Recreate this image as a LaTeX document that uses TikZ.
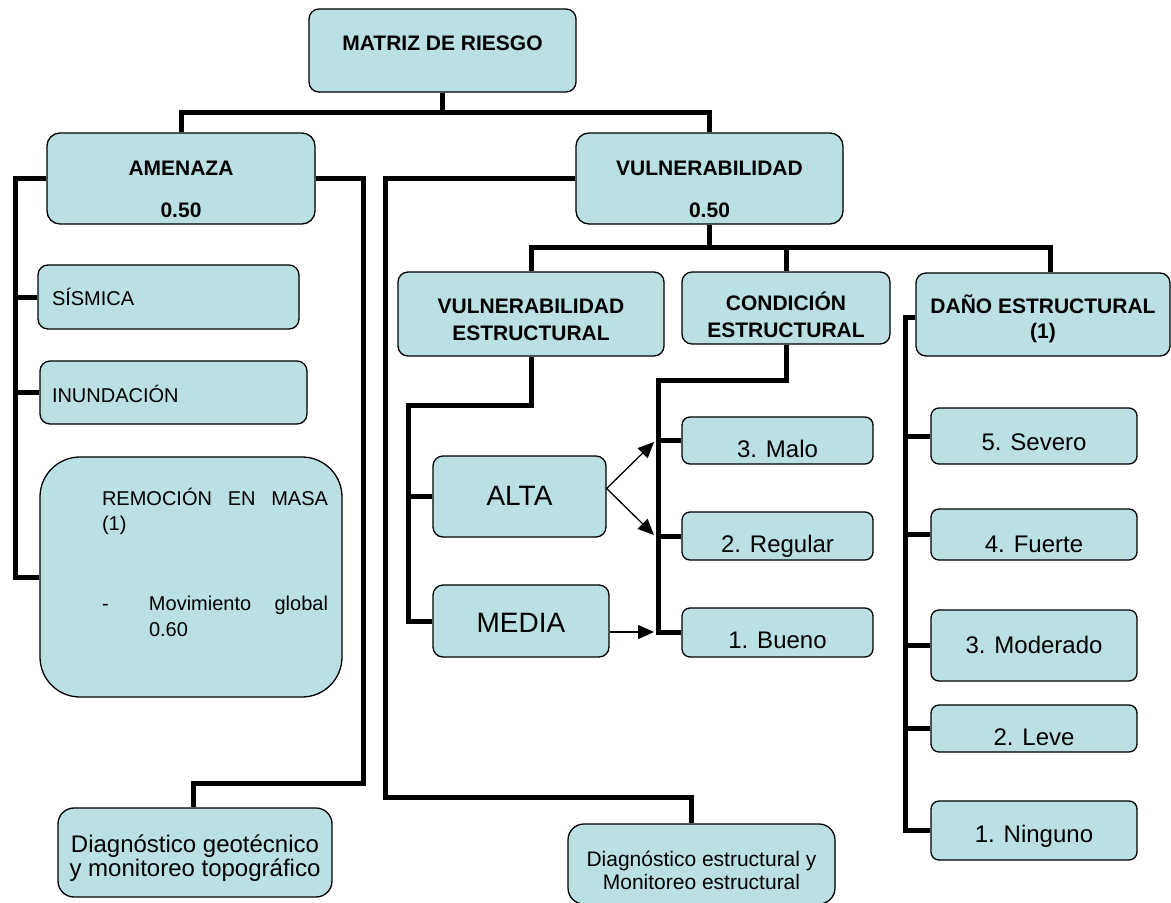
\documentclass[tikz,border=0pt]{standalone}
\usepackage{fontspec}
\setmainfont{Liberation Sans}
\usepackage{tikz}
\usetikzlibrary{arrows.meta}
\definecolor{cajafill}{RGB}{187,224,227}
% texto centrado: desplazamiento, tamano, interlinea, texto
\newcommand{\rotulo}[4]{\raisebox{#1pt}[0pt][0pt]{\fontsize{#2}{#3}\selectfont\begin{tabular}[t]{@{}c@{}}#4\end{tabular}}}
% texto a la izquierda: desplazamiento, tamano, ancho, texto
\newcommand{\rotuloizq}[4]{\raisebox{#1pt}[0pt][0pt]{\fontsize{#2}{#2}\selectfont\makebox[#3pt][l]{#4}}}
\tikzset{
    caja/.style={draw, line width=1.3pt, fill=cajafill, rounded corners=10pt, inner sep=0pt},
    link/.style={line width=5pt, line join=miter},
    flecha/.style={line width=1.3pt, -{Triangle[length=16pt,width=14pt]}}
}

\begin{document}
\begin{tikzpicture}[x=1pt,y=-1pt]
    \path[use as bounding box, fill=white] (0,0) rectangle (1171,903);

    % Raiz
    \node[caja, minimum width=267pt, minimum height=83pt] (matriz) at (442.5,50.5)
        {\rotulo{0.5}{21}{25}{\bfseries MATRIZ DE RIESGO}};
    \node[caja, rounded corners=13pt, minimum width=268pt, minimum height=91pt] (amenaza) at (181,178.5)
        {\rotulo{3.5}{21}{42}{\bfseries AMENAZA\\\bfseries 0.50}};
    \node[caja, rounded corners=13pt, minimum width=267pt, minimum height=91pt] (vuln) at (709.5,178.5)
        {\rotulo{3.5}{21}{42}{\bfseries VULNERABILIDAD\\\bfseries 0.50}};

    % Amenaza
    \node[caja, minimum width=261pt, minimum height=64pt] (sismica) at (168.5,297)
        {\rotuloizq{-8}{20}{233}{SÍSMICA}};
    \node[caja, minimum width=267pt, minimum height=63pt] (inundacion) at (173.5,392.5)
        {\rotuloizq{-9.5}{20}{243}{INUNDACIÓN}};
    \node[caja, rounded corners=40pt, minimum width=302pt, minimum height=240pt] (remocion) at (191,577)
        {\raisebox{72pt}[0pt][0pt]{\fontsize{20}{25.5}\selectfont\hspace*{48pt}\parbox[t]{226pt}{%
            REMOCIÓN\hfill EN\hfill MASA\\(1)\\[54.5pt]
            \makebox[47pt][l]{-}Movimiento\hfill global\\\hspace*{47pt}0.60}}};
    \node[caja, rounded corners=16pt, minimum width=274pt, minimum height=89pt] (diaggeo) at (195,852.5)
        {\rotulo{0.5}{24}{24}{Diagnóstico geotécnico\\y monitoreo topográfico}};

    % Vulnerabilidad
    \node[caja, minimum width=266pt, minimum height=84pt] (vest) at (531,314)
        {\rotulo{1}{21}{27}{\bfseries VULNERABILIDAD\\\bfseries ESTRUCTURAL}};
    \node[caja, minimum width=208pt, minimum height=72pt] (cond) at (786,308)
        {\rotulo{-2}{21}{27}{\bfseries CONDICIÓN\\\bfseries ESTRUCTURAL}};
    \node[caja, minimum width=254pt, minimum height=83pt] (dano) at (1043,314.5)
        {\rotulo{1.5}{21}{25}{\bfseries DAÑO ESTRUCTURAL\\\bfseries (1)}};
    \node[caja, rounded corners=16pt, minimum width=267pt, minimum height=80pt] (diagest) at (701.5,864)
        {\rotulo{-2}{21}{23}{Diagnóstico estructural y\\Monitoreo estructural}};

    \node[caja, minimum width=173pt, minimum height=81pt] (alta) at (519.5,496.5)
        {\rotulo{-8.5}{28}{28}{ALTA}};
    \node[caja, minimum width=176pt, minimum height=72pt] (media) at (521,621)
        {\rotulo{-11}{28}{28}{MEDIA}};

    \node[caja, rounded corners=8pt, minimum width=191pt, minimum height=47pt] (malo) at (777.5,440.5)
        {\rotulo{-16.5}{24}{24}{3. Malo}};
    \node[caja, rounded corners=8pt, minimum width=191pt, minimum height=48pt] (regular) at (777.5,536)
        {\rotulo{-16}{24}{24}{2. Regular}};
    \node[caja, rounded corners=8pt, minimum width=191pt, minimum height=49pt] (bueno) at (777.5,632.5)
        {\rotulo{-15.5}{24}{24}{1. Bueno}};

    \node[caja, rounded corners=8pt, minimum width=206pt, minimum height=56pt] (severo) at (1034,436)
        {\rotulo{-14}{24}{24}{5. Severo}};
    \node[caja, rounded corners=8pt, minimum width=206pt, minimum height=51pt] (fuerte) at (1034,534.5)
        {\rotulo{-17.5}{24}{24}{4. Fuerte}};
    \node[caja, rounded corners=8pt, minimum width=206pt, minimum height=71pt] (moderado) at (1034,645.5)
        {\rotulo{-7.5}{24}{24}{3. Moderado}};
    \node[caja, rounded corners=8pt, minimum width=206pt, minimum height=47pt] (leve) at (1034,728.5)
        {\rotulo{-16.5}{24}{24}{2. Leve}};
    \node[caja, rounded corners=8pt, minimum width=206pt, minimum height=59pt] (ninguno) at (1034,830.5)
        {\rotulo{-11.5}{24}{24}{1. Ninguno}};

    % Conectores principales
    \draw[link] (matriz.south) -- ++(0,21);
    \draw[link] (amenaza.north) -- ++(0,-20) -| (vuln.north);

    % Rama amenaza
    \draw[link] (amenaza.west) -- ++(-31,0) |- (remocion.west);
    \draw[link] (sismica.west) -- ++(-22,0);
    \draw[link] (inundacion.west) -- ++(-24,0);
    \draw[link] (amenaza.east) -- ++(48,0) -- ++(0,604.5) -| ([xshift=-2pt]diaggeo.north);

    % Rama vulnerabilidad
    \draw[link] (vuln.west) -- ++(-190,0) -- ++(0,619) -| ([xshift=-10pt]diagest.north);
    \draw[link] (vuln.south) -- ++(0,24);
    \draw[link] (vest.north) -- ++(0,-24) -| ([xshift=7pt]dano.north);
    \draw[link] (cond.north) -- ++(0,-24);

    \draw[link] (vest.south) -- ++(0,49) -- ++(-123,0) |- (media.west);
    \draw[link] (alta.west) -- ++(-25,0);

    \draw[link] (cond.south) -- ++(0,36) -- ++(-128,0) |- (bueno.west);
    \foreach \n in {malo,regular}
        \draw[link] (\n.west) -- ++(-24,0);

    \draw[link] ([yshift=-3pt]dano.west) -- ++(-10,0) |- (ninguno.west);
    \foreach \n in {severo,fuerte,moderado,leve}
        \draw[link] (\n.west) -- ++(-25,0);

    % Flechas
    \coordinate (haciamalo) at (654,442);
    \coordinate (haciaregular) at (654,535);
    \coordinate (haciabueno) at (654,632);
    \draw[flecha] ([yshift=8pt]alta.east) -- (haciamalo);
    \draw[flecha] ([yshift=8pt]alta.east) -- (haciaregular);
    \draw[flecha] ([yshift=-11pt]media.east) -- (haciabueno);
\end{tikzpicture}
\end{document}
